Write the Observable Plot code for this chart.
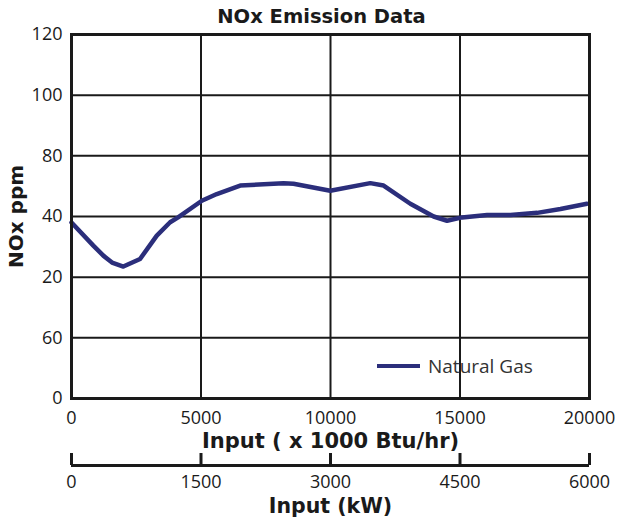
<!DOCTYPE html>
<html><head><meta charset="utf-8">
<script src="https://cdn.jsdelivr.net/npm/d3@7"></script>
<script src="https://cdn.jsdelivr.net/npm/@observablehq/plot@0.6"></script>
<style>
body{margin:0;background:#fff;font-family:"Open Sans",sans-serif;color:#1a1a1a;}
#wrap{position:relative;width:617px;height:519px;overflow:hidden;}
#wrap svg{position:absolute;left:0;}
#title{position:absolute;left:0;width:617px;padding-left:26px;box-sizing:border-box;text-align:center;top:7px;font-family:"DejaVu Sans",sans-serif;font-size:19.5px;line-height:20px;font-weight:700;}
#legend{position:absolute;left:377px;top:356px;display:flex;align-items:center;font-size:19px;line-height:20px;color:#333;}
#legend .sw{width:43px;height:4.5px;background:#2b2e7b;margin-right:8px;}
</style></head><body><div id="wrap"><div id="title"></div></div>
<script>
const inputBtu = [0, 843, 1229, 1565, 2002, 2647, 3293, 3807, 4116, 5032, 5610, 6512, 8185, 8572, 9990, 11536, 12050, 13082, 13983, 14500, 15080, 16046, 16946, 17979, 18879, 19900];
const noxPpm   = [58, 50.4, 47.1, 44.8, 43.5, 46, 53.7, 58.1, 59.7, 65.2, 67.4, 70.2, 71, 70.8, 68.5, 71, 70.2, 64.2, 60, 58.6, 59.7, 60.5, 60.5, 61.2, 62.5, 64.2];
const yTicks = [0, 20, 40, 60, 80, 100, 120];
const yTickLabels = ["0", "60", "20", "40", "80", "100", "120"];
const xTicks = [0, 5000, 10000, 15000, 20000];
const kwTicks = [0, 1500, 3000, 4500, 6000];
const seriesName = "Natural Gas";
const titleText = "NOx Emission Data";
const xLabel = "Input ( x 1000 Btu/hr)";
const x2Label = "Input (kW)";
const yLabel = "NOx ppm";

const data = inputBtu.map((x, i) => ({x, y: noxPpm[i], series: seriesName}));
const ink = "#1a1a1a";
const navy = "#2b2e7b";
const boldFont = "'DejaVu Sans', sans-serif";
const wrap = document.getElementById("wrap");
document.getElementById("title").textContent = titleText;

const axis2 = Plot.plot({
  width: 617, height: 67,
  marginLeft: 71, marginRight: 28, marginTop: 1, marginBottom: 54,
  style: {fontFamily: "'Open Sans', sans-serif", fontSize: "18px", color: ink, background: "transparent"},
  x: {domain: [0, 6000]},
  y: {domain: [0, 1]},
  marks: [
    Plot.ruleY([0], {stroke: ink, strokeWidth: 3}),
    Plot.ruleX(kwTicks, {y1: 0, y2: 1, stroke: ink, strokeWidth: 3}),
    Plot.axisX({ticks: kwTicks, tickSize: 0, tickPadding: 10, tickFormat: d => String(d), label: null, fontSize: 18}),
    Plot.axisX({ticks: [], label: x2Label, labelAnchor: "center", labelArrow: "none", labelOffset: 47, fontWeight: "bold", fontSize: 20.5, fontFamily: boldFont}),
    Plot.axisY({ticks: [], label: null})
  ]
});
axis2.style.top = "452px";
wrap.appendChild(axis2);

const chart = Plot.plot({
  width: 617, height: 458,
  marginLeft: 71, marginRight: 28, marginTop: 34, marginBottom: 60,
  style: {fontFamily: "'Open Sans', sans-serif", fontSize: "18px", color: ink, background: "transparent"},
  x: {domain: [0, 20000]},
  y: {domain: [0, 120]},
  marks: [
    Plot.gridX(xTicks, {stroke: ink, strokeOpacity: 1, strokeWidth: 2}),
    Plot.gridY(yTicks, {stroke: ink, strokeOpacity: 1, strokeWidth: 2}),
    Plot.line(data, {x: "x", y: "y", stroke: navy, strokeWidth: 4.5}),
    Plot.frame({stroke: ink, strokeWidth: 3}),
    Plot.axisX({ticks: xTicks, tickSize: 0, tickPadding: 13, tickFormat: d => String(d), label: null, fontSize: 18}),
    Plot.axisX({ticks: [], label: xLabel, labelAnchor: "center", labelArrow: "none", labelOffset: 49, fontWeight: "bold", fontSize: 21, fontFamily: boldFont}),
    Plot.axisY({ticks: yTicks, tickSize: 0, tickPadding: 9, tickFormat: d => yTickLabels[yTicks.indexOf(d)], label: null, fontSize: 18}),
    Plot.axisY({ticks: [], label: yLabel, labelAnchor: "center", labelArrow: "none", labelOffset: 63, fontWeight: "bold", fontSize: 20, fontFamily: boldFont})
  ]
});
chart.style.top = "0px";
wrap.appendChild(chart);

const legend = document.createElement("div");
legend.id = "legend";
legend.innerHTML = '<span class="sw"></span><span></span>';
legend.lastChild.textContent = seriesName;
wrap.appendChild(legend);
</script>
</body></html>
